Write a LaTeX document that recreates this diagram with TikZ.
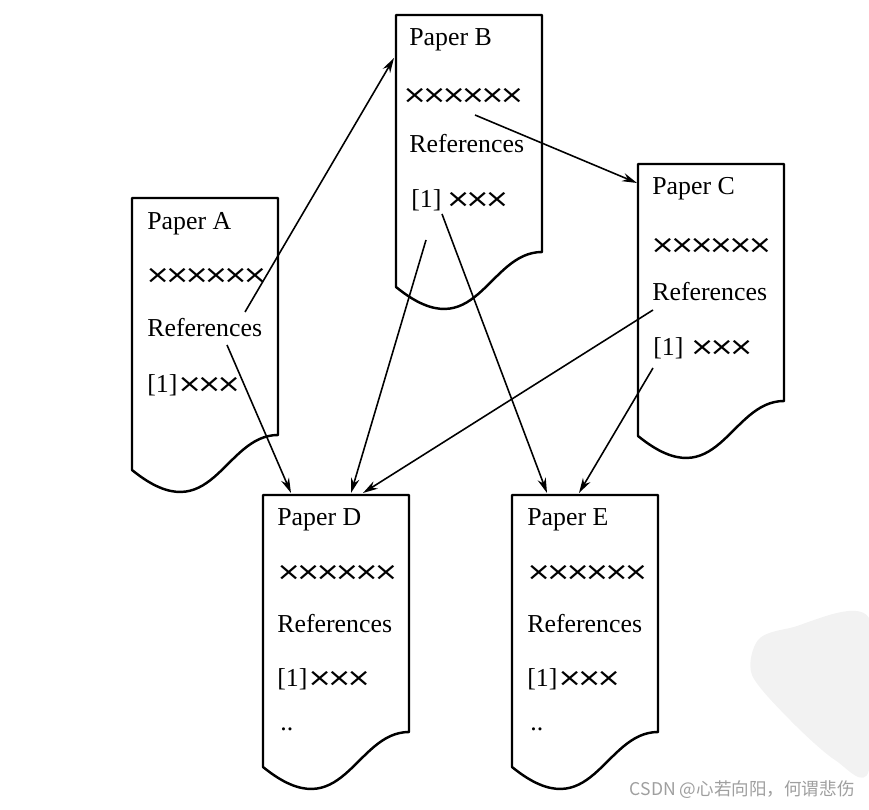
\documentclass[tikz,border=0pt]{standalone}
\usepackage{fontspec}
\usepackage{graphicx}
\setmainfont{Liberation Serif}
\newfontfamily\crossfont{DejaVu Sans}
\newfontfamily\cjkfont{Noto Sans CJK SC}
\usetikzlibrary{arrows.meta,calc}

\tikzset{
  paperline/.style={line width=1.4pt, line join=round},
  papertext/.style={anchor=base west, inner sep=0pt, font=\fontsize{14.7}{17}\selectfont},
  citeline/.style={->, line width=0.9pt},
}
\newcommand{\xmark}{\scalebox{1.05}[0.9]{\crossfont\fontsize{16}{18}\selectfont ×}\kern-3pt}
\newcommand{\threex}{\xmark\xmark\xmark}
\newcommand{\sixx}{\threex\threex}
% outline of one paper sheet, #1 = its top left corner
\newcommand{\paperoutline}[1]{%
  \draw[paperline] (#1) -- ++(146,0) -- ++(0,237)
    .. controls +(-55,0) and +(80,65) .. ++(-146,35) -- cycle;}

\begin{document}
\begin{tikzpicture}[x=0.02cm, y=-0.02cm, >={Stealth[length=3mm,width=1.7mm]}]
    \useasboundingbox (0,0) rectangle (869,810);

    % watermark
    \fill[gray!10] plot[smooth cycle] coordinates {
        (790,628) (869,618) (869,770) (835,760) (790,720) (752,675) (758,640)};
    \node[anchor=base east, inner sep=0pt, text=gray!75,
        font=\cjkfont\fontsize{10}{12}\selectfont] (mark) at (855,795)
        {CSDN @心若向阳，何谓悲伤};

    % papers
    \coordinate (A) at (132,198);
    \coordinate (B) at (396,15);
    \coordinate (C) at (638,164);
    \coordinate (D) at (263,495);
    \coordinate (E) at (512,495);
    \foreach \p in {A,B,C,D,E} {\paperoutline{\p}}

    \node[papertext] (aTitle) at ($(A)+(15,32)$) {Paper A};
    \node[papertext] (aBody) at ($(A)+(13,86)$) {\sixx};
    \node[papertext] (aRef) at ($(A)+(15,139)$) {References};
    \node[papertext] (aOne) at ($(A)+(15,195)$) {[1]\threex};

    \node[papertext] (bTitle) at ($(B)+(13,31)$) {Paper B};
    \node[papertext] (bBody) at ($(B)+(6,89)$) {\sixx};
    \node[papertext] (bRef) at ($(B)+(13,138)$) {References};
    \node[papertext] (bOne) at ($(B)+(15,193)$) {[1]\,\threex};

    \node[papertext] (cTitle) at ($(C)+(14,31)$) {Paper C};
    \node[papertext] (cBody) at ($(C)+(12,90)$) {\sixx};
    \node[papertext] (cRef) at ($(C)+(14,137)$) {References};
    \node[papertext] (cOne) at ($(C)+(15,192)$) {[1] \threex};

    \node[papertext] (dTitle) at ($(D)+(14,31)$) {Paper D};
    \node[papertext] (dBody) at ($(D)+(13,86)$) {\sixx};
    \node[papertext] (dRef) at ($(D)+(14,137)$) {References};
    \node[papertext] (dOne) at ($(D)+(14,191)$) {[1]\threex};
    \node[papertext] (dMore) at ($(D)+(17,235)$) {..};

    \node[papertext] (eTitle) at ($(E)+(15,31)$) {Paper E};
    \node[papertext] (eBody) at ($(E)+(14,86)$) {\sixx};
    \node[papertext] (eRef) at ($(E)+(15,137)$) {References};
    \node[papertext] (eOne) at ($(E)+(15,191)$) {[1]\threex};
    \node[papertext] (eMore) at ($(E)+(18,235)$) {..};

    % citation links
    \coordinate (aTail1) at (245,312);
    \coordinate (aTail2) at (227,345);
    \coordinate (bTail1) at (475,115);
    \coordinate (bTail2) at (426,240);
    \coordinate (bTail3) at (442,214);
    \coordinate (cTail1) at (653,310);
    \coordinate (cTail2) at (653,368);
    \coordinate (bHead) at ($(B)+(-2,43)$);
    \coordinate (cHead) at ($(C)+(-1,19)$);
    \coordinate (dHead1) at ($(D)+(28,-2)$);
    \coordinate (dHead2) at ($(D)+(88,-2)$);
    \coordinate (dHead3) at ($(D)+(100,-2)$);
    \coordinate (eHead1) at ($(E)+(35,-2)$);
    \coordinate (eHead2) at ($(E)+(67,-2)$);

    \draw[citeline] (aTail1) -- (bHead);
    \draw[citeline] (aTail2) -- (dHead1);
    \draw[citeline] (bTail1) -- (cHead);
    \draw[citeline] (bTail2) -- (dHead2);
    \draw[citeline] (bTail3) -- (eHead1);
    \draw[citeline] (cTail1) -- (dHead3);
    \draw[citeline] (cTail2) -- (eHead2);
\end{tikzpicture}
\end{document}
